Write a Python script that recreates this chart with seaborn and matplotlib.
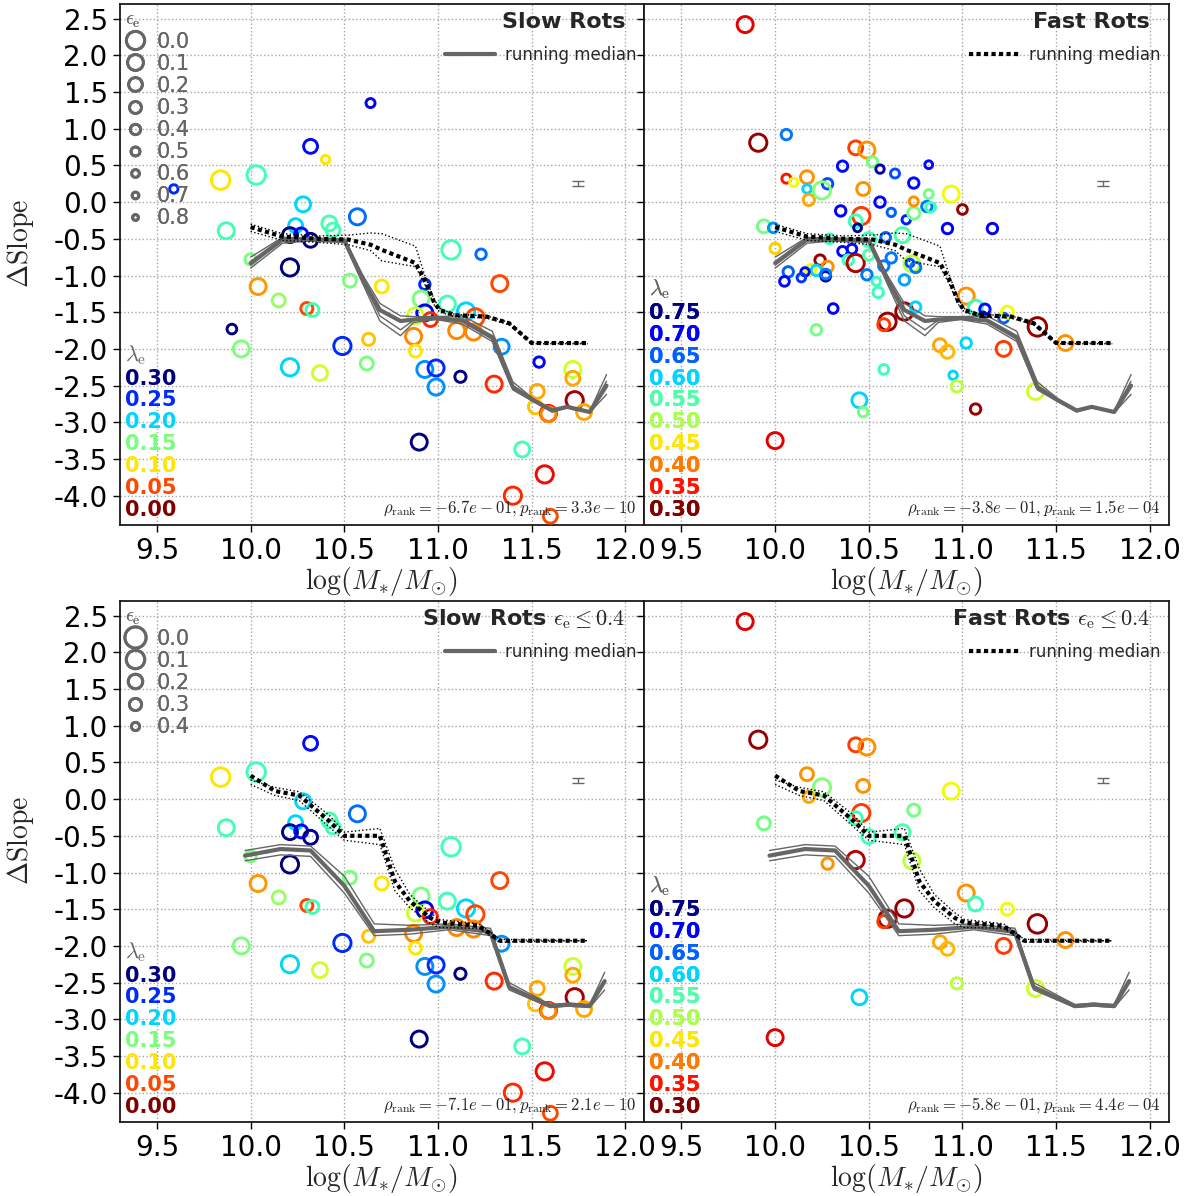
import numpy as np
import pandas as pd
import matplotlib
matplotlib.use("Agg")
import matplotlib.pyplot as plt
from matplotlib.lines import Line2D
from matplotlib.colors import Normalize
import seaborn as sns

# ---------------- slow rotators: log M*, delta slope, lambda_e, epsilon_e
slow_mass = [9.59, 9.84, 10.03, 10.32, 10.28, 9.87, 10.24, 10.21, 10.27, 10.32,
             10.21, 10.00, 10.04, 10.15, 9.90, 9.95, 10.21, 10.30, 10.33, 10.37,
             11.07, 11.23, 11.33, 10.53, 10.70, 10.93, 10.91, 11.05, 10.93, 10.88,
             10.96, 11.15, 11.20, 11.10, 11.19, 10.87, 10.88, 10.63, 10.49, 10.62,
             10.93, 10.99, 10.99, 11.12, 11.30, 11.34, 11.54, 11.72, 11.72, 11.53,
             11.73, 11.52, 11.59, 11.59, 11.78, 10.90, 11.45, 11.57, 11.40, 11.60,
             10.64, 10.40, 10.57, 10.42, 10.44]
slow_dslope = [0.18, 0.30, 0.37, 0.76, -0.03, -0.39, -0.32, -0.45, -0.44, -0.52,
               -0.89, -0.78, -1.15, -1.34, -1.73, -2.00, -2.25, -1.45, -1.47, -2.33,
               -0.65, -0.71, -1.11, -1.07, -1.15, -1.12, -1.32, -1.39, -1.51, -1.55,
               -1.60, -1.49, -1.57, -1.75, -1.77, -1.83, -2.03, -1.87, -1.96, -2.20,
               -2.28, -2.26, -2.52, -2.38, -2.48, -1.97, -2.18, -2.28, -2.40, -2.58,
               -2.70, -2.79, -2.88, -2.89, -2.86, -3.27, -3.37, -3.71, -4.00, -4.28,
               1.35, 0.58, -0.20, -0.29, -0.38]
slow_lambda = [0.25, 0.10, 0.17, 0.26, 0.20, 0.17, 0.20, 0.30, 0.26, 0.30,
               0.30, 0.15, 0.075, 0.14, 0.30, 0.15, 0.20, 0.05, 0.17, 0.12,
               0.17, 0.23, 0.05, 0.15, 0.10, 0.25, 0.15, 0.17, 0.27, 0.12,
               0.04, 0.20, 0.05, 0.07, 0.07, 0.07, 0.10, 0.09, 0.25, 0.15,
               0.22, 0.25, 0.22, 0.30, 0.04, 0.22, 0.26, 0.12, 0.08, 0.08,
               0.01, 0.09, 0.03, 0.07, 0.08, 0.30, 0.17, 0.03, 0.04, 0.05,
               0.27, 0.10, 0.23, 0.17, 0.17]
slow_eps = [0.6, 0.05, 0.05, 0.25, 0.2, 0.15, 0.25, 0.2, 0.3, 0.25,
            0.1, 0.4, 0.15, 0.3, 0.5, 0.15, 0.1, 0.35, 0.3, 0.2,
            0.05, 0.45, 0.15, 0.3, 0.3, 0.45, 0.15, 0.15, 0.15, 0.15,
            0.25, 0.1, 0.1, 0.15, 0.15, 0.15, 0.35, 0.35, 0.1, 0.3,
            0.15, 0.15, 0.15, 0.4, 0.15, 0.2, 0.45, 0.15, 0.25, 0.25,
            0.1, 0.25, 0.15, 0.2, 0.2, 0.15, 0.2, 0.1, 0.1, 0.25,
            0.55, 0.6, 0.15, 0.2, 0.25]

# ---------------- fast rotators
fast_mass = [9.84, 9.91, 10.06, 10.06, 10.10, 10.17, 10.17, 10.18, 10.28, 10.25,
             10.36, 10.43, 10.49, 10.52, 10.56, 10.64, 10.47, 10.74, 10.35, 10.56,
             10.62, 10.46, 10.43, 10.44, 10.70, 10.74, 10.74, 9.94, 9.99, 10.29,
             10.50, 10.68, 10.59, 10.82, 10.94, 10.82, 10.81, 10.83, 11.00, 10.92,
             11.16, 10.00, 10.36, 10.41, 10.39, 10.43, 10.50, 10.62, 10.58, 10.73,
             10.72, 10.75, 10.49, 10.69, 10.54, 10.55, 10.24, 10.28, 10.19, 10.22,
             10.27, 10.27, 10.16, 10.07, 10.05, 10.14, 10.31, 10.22, 10.60, 10.58,
             10.69, 10.75, 10.88, 11.02, 11.07, 11.12, 11.11, 11.22, 11.24, 11.40,
             11.55, 10.92, 11.02, 11.22, 10.95, 10.97, 11.07, 11.39, 10.58, 10.45,
             10.47, 10.00]
fast_dslope = [2.42, 0.81, 0.92, 0.32, 0.27, 0.34, 0.18, 0.03, 0.25, 0.16,
               0.49, 0.74, 0.71, 0.55, 0.45, 0.39, 0.18, 0.26, -0.12, 0.00,
               -0.14, -0.19, -0.26, -0.35, -0.24, -0.15, 0.01, -0.33, -0.35, -0.50,
               -0.51, -0.45, -0.48, 0.51, 0.11, 0.11, -0.06, -0.07, -0.10, -0.36,
               -0.36, -0.63, -0.67, -0.64, -0.79, -0.83, -0.72, -0.76, -0.87, -0.84,
               -0.83, -0.89, -0.99, -1.06, -1.08, -1.23, -0.79, -0.88, -0.92, -0.93,
               -1.01, -0.98, -0.95, -0.95, -1.08, -1.03, -1.45, -1.74, -1.63, -1.67,
               -1.49, -1.43, -1.95, -1.28, -1.43, -1.46, -1.54, -1.58, -1.50, -1.70,
               -1.92, -2.04, -1.92, -2.00, -2.36, -2.51, -2.82, -2.58, -2.28, -2.70,
               -2.86, -3.25]
fast_lambda = [0.34, 0.31, 0.64, 0.35, 0.46, 0.41, 0.60, 0.42, 0.66, 0.52,
               0.69, 0.37, 0.41, 0.53, 0.73, 0.66, 0.41, 0.69, 0.70, 0.70,
               0.65, 0.37, 0.56, 0.74, 0.68, 0.53, 0.41, 0.53, 0.63, 0.56,
               0.56, 0.55, 0.65, 0.69, 0.46, 0.53, 0.64, 0.56, 0.31, 0.70,
               0.70, 0.44, 0.70, 0.69, 0.56, 0.32, 0.55, 0.64, 0.64, 0.49,
               0.66, 0.64, 0.64, 0.62, 0.56, 0.56, 0.31, 0.41, 0.46, 0.60,
               0.73, 0.64, 0.69, 0.65, 0.69, 0.67, 0.70, 0.53, 0.31, 0.37,
               0.31, 0.60, 0.42, 0.41, 0.56, 0.69, 0.74, 0.65, 0.46, 0.31,
               0.41, 0.43, 0.60, 0.37, 0.60, 0.49, 0.31, 0.48, 0.56, 0.60,
               0.53, 0.34]
fast_eps = [0.15, 0.1, 0.45, 0.55, 0.6, 0.3, 0.6, 0.4, 0.45, 0.1,
            0.45, 0.25, 0.15, 0.45, 0.6, 0.55, 0.3, 0.45, 0.45, 0.45,
            0.6, 0.1, 0.3, 0.65, 0.6, 0.35, 0.55, 0.3, 0.5, 0.5,
            0.25, 0.2, 0.5, 0.65, 0.15, 0.55, 0.45, 0.5, 0.5, 0.45,
            0.45, 0.45, 0.5, 0.5, 0.45, 0.1, 0.45, 0.45, 0.45, 0.15,
            0.65, 0.45, 0.45, 0.45, 0.6, 0.45, 0.45, 0.4, 0.45, 0.45,
            0.5, 0.5, 0.6, 0.45, 0.5, 0.6, 0.5, 0.45, 0.1, 0.35,
            0.1, 0.45, 0.3, 0.15, 0.25, 0.45, 0.8, 0.5, 0.35, 0.05,
            0.2, 0.3, 0.45, 0.2, 0.6, 0.4, 0.45, 0.15, 0.5, 0.2,
            0.5, 0.15]

# ---------------- running medians (full samples)
med_slow_x = [10.0, 10.17, 10.3, 10.5, 10.6, 10.69, 10.8, 10.87, 10.99, 11.13,
              11.29, 11.4, 11.51, 11.61, 11.69, 11.81, 11.9]
med_slow_y = [-0.83, -0.51, -0.51, -0.52, -1.06, -1.47, -1.62, -1.60, -1.58, -1.61,
              -1.84, -2.52, -2.70, -2.84, -2.79, -2.86, -2.50]
med_slow_alt_y = [
    [-0.75, -0.48, -0.49, -0.50, -1.00, -1.38, -1.55, -1.56, -1.56, -1.55,
     -1.76, -2.45, -2.68, -2.83, -2.78, -2.85, -2.35],
    [-0.90, -0.56, -0.53, -0.55, -1.12, -1.62, -1.82, -1.64, -1.60, -1.66,
     -1.90, -2.56, -2.72, -2.86, -2.80, -2.87, -2.62],
    [-0.86, -0.53, -0.52, -0.53, -1.09, -1.55, -1.74, -1.61, -1.59, -1.63,
     -1.87, -2.54, -2.71, -2.85, -2.80, -2.86, -2.44],
]
med_fast_x = [10.0, 10.17, 10.37, 10.52, 10.64, 10.7, 10.88, 10.93, 10.98, 11.01,
              11.09, 11.26, 11.38, 11.5, 11.8]
med_fast_y = [-0.34, -0.47, -0.50, -0.51, -0.58, -0.65, -0.83, -1.06, -1.37, -1.47,
              -1.54, -1.56, -1.65, -1.92, -1.92]
med_fast_alt_y = [
    [-0.30, -0.43, -0.46, -0.45, -0.42, -0.43, -0.60, -1.00, -1.33, -1.45,
     -1.53, -1.55, -1.64, -1.91, -1.92],
    [-0.40, -0.52, -0.55, -0.58, -0.66, -0.80, -0.88, -1.12, -1.40, -1.50,
     -1.56, -1.58, -1.67, -1.93, -1.93],
]

# ---------------- running medians (epsilon_e <= 0.4)
med_slow_lo_x = [9.97, 10.16, 10.32, 10.5, 10.66, 10.85, 11.06, 11.28, 11.38, 11.6,
                 11.7, 11.81, 11.89]
med_slow_lo_y = [-0.77, -0.68, -0.70, -1.18, -1.80, -1.78, -1.74, -1.81, -2.56, -2.82,
                 -2.80, -2.82, -2.48]
med_slow_lo_alt_y = [
    [-0.70, -0.62, -0.64, -1.05, -1.70, -1.72, -1.70, -1.76, -2.50, -2.80,
     -2.78, -2.80, -2.36],
    [-0.84, -0.76, -0.78, -1.28, -1.86, -1.84, -1.78, -1.86, -2.60, -2.84,
     -2.82, -2.84, -2.60],
]
med_fast_lo_x = [10.0, 10.13, 10.26, 10.42, 10.5, 10.69, 10.77, 10.85, 10.96, 11.01,
                 11.22, 11.33, 11.47, 11.8]
med_fast_lo_y = [0.32, 0.11, 0.05, -0.30, -0.50, -0.50, -1.12, -1.39, -1.62, -1.68,
                 -1.73, -1.93, -1.93, -1.93]
med_fast_lo_alt_y = [
    [0.26, 0.16, 0.10, -0.22, -0.45, -0.40, -0.95, -1.30, -1.55, -1.64,
     -1.70, -1.91, -1.92, -1.93],
    [0.20, 0.05, -0.02, -0.38, -0.56, -0.62, -1.25, -1.48, -1.70, -1.75,
     -1.76, -1.95, -1.94, -1.93],
]

slow_lambda_ticks = [0.30, 0.25, 0.20, 0.15, 0.10, 0.05, 0.00]
fast_lambda_ticks = [0.75, 0.70, 0.65, 0.60, 0.55, 0.50, 0.45, 0.40, 0.35, 0.30]
eps_ticks_all = [0.0, 0.1, 0.2, 0.3, 0.4, 0.5, 0.6, 0.7, 0.8]
eps_ticks_lo = [0.0, 0.1, 0.2, 0.3, 0.4]
eps_cut = 0.4

rank_texts = {
    ("slow", False): r"$\rho_{\rm rank}=-6.7e-01, p_{\rm rank}=3.3e-10$",
    ("fast", False): r"$\rho_{\rm rank}=-3.8e-01, p_{\rm rank}=1.5e-04$",
    ("slow", True): r"$\rho_{\rm rank}=-7.1e-01, p_{\rm rank}=2.1e-10$",
    ("fast", True): r"$\rho_{\rm rank}=-5.8e-01, p_{\rm rank}=4.4e-04$",
}

# ---------------- style
sns.set_style("ticks", {"axes.grid": True, "grid.linestyle": ":", "grid.color": "0.65",
                        "axes.edgecolor": "0.1", "xtick.direction": "out",
                        "ytick.direction": "out"})
plt.rcParams.update({
    "font.family": ["DejaVu Sans"],
    "mathtext.fontset": "cm",
    "axes.unicode_minus": False,
    "grid.linewidth": 1.0,
})

GREY = "0.4"
RING_LW = 2.1
cmap = plt.get_cmap("jet_r")


def ring_area(e):
    return 205.0 * 0.75 ** (10 * e)


slow = pd.DataFrame({"mass": slow_mass, "dslope": slow_dslope,
                     "lam": slow_lambda, "eps": slow_eps})
fast = pd.DataFrame({"mass": fast_mass, "dslope": fast_dslope,
                     "lam": fast_lambda, "eps": fast_eps})

fig = plt.figure(figsize=(11.9, 11.96), dpi=100)
W, H = 1190.0, 1196.0
panel_w, panel_h = 524.5, 521.0
lefts = [119.5, 644.0]
tops = [4.0, 601.0]


def draw_points(ax, df, norm):
    sizes = {e: ring_area(e) for e in df["eps"].unique()}
    sns.scatterplot(data=df, x="mass", y="dslope", hue="lam", hue_norm=norm,
                    palette="jet_r", size="eps", sizes=sizes, linewidth=RING_LW,
                    legend=False, ax=ax, zorder=3)
    pts = ax.collections[-1]
    pts.set_edgecolors(pts.get_facecolors())
    pts.set_facecolors("none")


def draw_medians(ax, sx, sy, salt, fx, fy, falt):
    for alt in salt:
        sns.lineplot(x=sx, y=alt, color=GREY, lw=1.0, sort=False, estimator=None,
                     ax=ax, zorder=4)
    sns.lineplot(x=sx, y=sy, color=GREY, lw=3.0, sort=False, estimator=None,
                 ax=ax, zorder=4)
    for alt in falt:
        sns.lineplot(x=fx, y=alt, color="black", lw=1.0, ls=":", sort=False,
                     estimator=None, ax=ax, zorder=5)
    line = sns.lineplot(x=fx, y=fy, color="black", lw=3.0, sort=False,
                        estimator=None, ax=ax, zorder=5)
    line.lines[-1].set_dashes((1, 0.8))


def lambda_legend(ax, values, norm):
    handles = [Line2D([], [], ls="none") for _ in values]
    leg = ax.legend(handles, [f"{v:.2f}" for v in values], loc="lower left",
                    bbox_to_anchor=(0.0, 0.0), frameon=False, handlelength=0,
                    handletextpad=0, borderaxespad=0.0, borderpad=0.25,
                    labelspacing=0.09, prop={"weight": "bold", "size": 15},
                    title=r"$\lambda_{\rm e}$", title_fontsize=16, alignment="left")
    leg.get_title().set_color(GREY)
    for t, v in zip(leg.get_texts(), values):
        t.set_color(cmap(norm(v)))
    ax.add_artist(leg)


def eps_legend(ax, values, ring_px=None):
    handles = []
    for i, e in enumerate(values):
        ms = np.sqrt(ring_area(e)) * 0.92 if ring_px is None else (ring_px[i] - 2.8) * 0.72
        handles.append(Line2D([], [], ls="none", marker="o", markerfacecolor="none",
                              markeredgecolor=GREY, markeredgewidth=RING_LW,
                              markersize=ms))
    leg = ax.legend(handles, [f"{e:.1f}" for e in values], loc="upper left",
                    bbox_to_anchor=(0.0, 1.0), frameon=False, handlelength=1.0,
                    handletextpad=0.55, borderaxespad=0.0, borderpad=0.25,
                    labelspacing=0.1, fontsize=15, labelcolor=GREY,
                    title=r"$\epsilon_{\rm e}$", title_fontsize=14, alignment="left")
    leg.get_title().set_color(GREY)
    ax.add_artist(leg)


def median_legend(ax, kind):
    if kind == "slow":
        h = Line2D([], [], color=GREY, lw=3.0)
    else:
        h = Line2D([], [], color="black", lw=3.0, dashes=(1, 0.8))
    leg = ax.legend([h], ["running median"], loc="center right",
                    bbox_to_anchor=(0.985, 0.902), frameon=False, fontsize=12,
                    handlelength=3.0, handletextpad=0.6, borderaxespad=0,
                    borderpad=0)
    ax.add_artist(leg)


slow_norm = Normalize(0.0, 0.30)
fast_norm = Normalize(0.30, 0.75)

for row, low_eps in enumerate([False, True]):
    for col, kind in enumerate(["slow", "fast"]):
        ax = fig.add_axes([lefts[col] / W, 1 - (tops[row] + panel_h) / H,
                           panel_w / W, panel_h / H])
        df = slow if kind == "slow" else fast
        if low_eps:
            df = df[df["eps"] <= eps_cut]
        norm = slow_norm if kind == "slow" else fast_norm
        draw_points(ax, df, norm)
        if low_eps:
            draw_medians(ax, med_slow_lo_x, med_slow_lo_y, med_slow_lo_alt_y,
                         med_fast_lo_x, med_fast_lo_y, med_fast_lo_alt_y)
        else:
            draw_medians(ax, med_slow_x, med_slow_y, med_slow_alt_y,
                         med_fast_x, med_fast_y, med_fast_alt_y)
        ax.errorbar([11.75], [0.25], yerr=[0.035], color=GREY, capsize=4,
                    lw=1.0, capthick=1.0, zorder=4)

        ax.set_xlim(9.3, 12.1)
        ax.set_ylim(-4.4, 2.7)
        ax.set_xticks(np.arange(9.5, 12.01, 0.5))
        ax.set_yticks(np.arange(-4.0, 2.51, 0.5))
        ax.tick_params(labelsize=20, length=5, width=1.0, colors="black")
        ax.grid(True, ls=":", color="0.65", lw=1.0)
        ax.set_axisbelow(True)
        for sp in ax.spines.values():
            sp.set_linewidth(1.3)
            sp.set_color("0.1")
        ax.set_xlabel(r"$\log(M_{*}/M_{\odot})$", fontsize=20, labelpad=0)
        if col == 0:
            ax.set_ylabel(r"$\Delta\mathrm{Slope}$", fontsize=20)
            ax.yaxis.set_label_coords(-0.16, 0.54)
        else:
            ax.set_ylabel("")
            ax.tick_params(labelleft=False)

        title = "Slow Rots" if kind == "slow" else "Fast Rots"
        if low_eps:
            ax.text(0.965, 0.966, title + r" $\epsilon_{\rm e}\leq0.4$",
                    transform=ax.transAxes, ha="right", va="center",
                    fontsize=16, weight="bold")
        else:
            ax.text(0.965, 0.966, title, transform=ax.transAxes, ha="right",
                    va="center", fontsize=16, weight="bold")
        ax.text(0.985, 0.033, rank_texts[(kind, low_eps)], transform=ax.transAxes,
                ha="right", va="center", fontsize=12)

        median_legend(ax, kind)
        if kind == "slow":
            lambda_legend(ax, slow_lambda_ticks, slow_norm)
            if low_eps:
                eps_legend(ax, eps_ticks_lo, ring_px=[24, 21.3, 17.3, 15, 11])
            else:
                eps_legend(ax, eps_ticks_all)
        else:
            lambda_legend(ax, fast_lambda_ticks, fast_norm)

fig.savefig("out.png", dpi=100)
